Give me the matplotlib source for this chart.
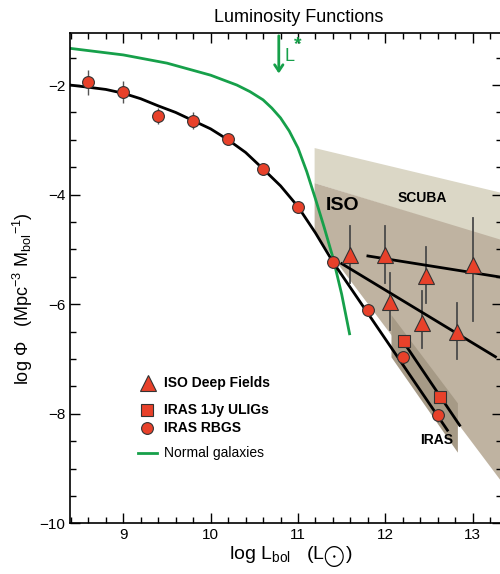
import matplotlib
matplotlib.use("Agg")
import matplotlib.pyplot as plt
from matplotlib.ticker import MultipleLocator

plt.rcParams['font.family'] = ['Liberation Sans', 'DejaVu Sans']
plt.rcParams['mathtext.fontset'] = 'custom'
plt.rcParams['mathtext.rm'] = 'Liberation Sans'
plt.rcParams['mathtext.it'] = 'Liberation Sans:italic'
plt.rcParams['mathtext.bf'] = 'Liberation Sans:bold'

# --- data ---
# IRAS RBGS (circles)
rbgs_x = [8.6, 9.0, 9.4, 9.8, 10.2, 10.6, 11.0, 11.4, 11.8, 12.2, 12.6]
rbgs_y = [-1.95, -2.12, -2.56, -2.65, -2.99, -3.53, -4.23, -5.23, -6.10, -6.97, -8.03]
rbgs_err = [0.23, 0.2, 0.15, 0.15, 0.07, 0.1, 0.1, 0.05, 0.05, 0.12, 0.12]

# IRAS 1Jy ULIGs (squares)
ulig_x = [12.21, 12.62]
ulig_y = [-6.68, -7.70]
ulig_err = [0.1, 0.1]

# ISO deep fields (triangles) with asymmetric error bars
iso_x = [11.59, 12.0, 12.46, 13.0, 12.05, 12.42, 12.82]
iso_y = [-5.10, -5.10, -5.49, -5.29, -5.96, -6.34, -6.50]
iso_top = [-4.57, -4.57, -4.95, -4.43, -5.43, -5.76, -5.97]
iso_bot = [-5.62, -5.62, -5.98, -6.30, -6.48, -6.80, -7.00]

# RBGS fit curve
fit_x = [8.39, 8.6, 8.8, 9.0, 9.2, 9.4, 9.6, 9.8, 10.0, 10.2, 10.4, 10.6, 10.8, 11.0, 11.2, 11.4, 12.71]
fit_y = [-2.0, -2.04, -2.08, -2.15, -2.25, -2.38, -2.5, -2.65, -2.8, -3.0, -3.23, -3.53, -3.84, -4.22, -4.7, -5.23, -8.3]

# second IRAS (ULIG) line
ulig_line_x = [12.22, 12.85]
ulig_line_y = [-6.72, -8.21]

# ISO power-law lines
iso_line1_x = [11.8, 13.335]
iso_line1_y = [-5.12, -5.51]
iso_line2_x = [11.5, 13.26]
iso_line2_y = [-5.26, -6.96]

# normal galaxies
norm_x = [8.39, 9.0, 9.5, 10.0, 10.3, 10.45, 10.6, 10.7, 10.8, 10.9, 11.0, 11.1, 11.2, 11.3, 11.4, 11.5, 11.59]
norm_y = [-1.33, -1.45, -1.6, -1.82, -2.0, -2.12, -2.27, -2.42, -2.6, -2.84, -3.15, -3.58, -4.08, -4.6, -5.15, -5.82, -6.54]

# shaded regions
scuba_x = [11.19, 13.335, 13.335, 11.19]
scuba_y = [-3.15, -3.97, -4.85, -3.79]
iso_reg_x = [11.19, 13.335, 13.335, 11.19]
iso_reg_y = [-3.79, -4.83, -9.25, -4.70]
iras_reg_x = [12.07, 12.83, 12.83, 12.07]
iras_reg_y = [-6.2, -7.81, -8.71, -6.97]

Lstar = 10.78

red = '#e8412a'
green = '#16a04a'

fig = plt.figure(figsize=(5.0, 5.74), dpi=100)
ax = fig.add_axes([0.14, 0.0883, 0.864, 0.8542])

ax.fill(scuba_x, scuba_y, color='#dbd7c6', lw=0, zorder=1)
ax.fill(iso_reg_x, iso_reg_y, color='#bfb3a1', lw=0, zorder=1.1)
ax.fill(iras_reg_x, iras_reg_y, color='#a69a86', lw=0, zorder=1.2)

ax.plot(norm_x, norm_y, color=green, lw=2, zorder=2)

ax.plot(fit_x, fit_y, color='k', lw=2, zorder=3)
ax.plot(ulig_line_x, ulig_line_y, color='k', lw=2, zorder=3)
ax.plot(iso_line1_x, iso_line1_y, color='k', lw=2, zorder=3)
ax.plot(iso_line2_x, iso_line2_y, color='k', lw=2, zorder=3)

# error bars
for x, t, b in zip(iso_x, iso_top, iso_bot):
    ax.plot([x, x], [b, t], color='#4a4a4a', lw=1.3, zorder=2.5)
ax.errorbar(rbgs_x, rbgs_y, yerr=rbgs_err, fmt='none', ecolor='#555555', elinewidth=1.0, zorder=2.5)
ax.errorbar(ulig_x, ulig_y, yerr=ulig_err, fmt='none', ecolor='#555555', elinewidth=1.0, zorder=2.5)

ax.plot(iso_x, iso_y, '^', ms=11, mfc=red, mec='#333333', mew=0.8, ls='none', zorder=4)
ax.plot(ulig_x, ulig_y, 's', ms=8, mfc=red, mec='#333333', mew=0.8, ls='none', zorder=4)
ax.plot(rbgs_x, rbgs_y, 'o', ms=8.5, mfc=red, mec='#333333', mew=0.8, ls='none', zorder=4)

# L* arrow
ax.annotate('', xy=(Lstar, -1.84), xytext=(Lstar, -1.05),
            arrowprops=dict(arrowstyle='->,head_length=0.45,head_width=0.3', color=green, lw=2),
            zorder=5)
ax.text(Lstar + 0.06, -1.48, 'L', color=green, fontsize=13, va='center', ha='left')
ax.text(Lstar + 0.17, -1.27, '*', color=green, fontsize=14, fontweight='bold', va='center', ha='left')

ax.text(11.51, -4.19, 'ISO', fontsize=14, fontweight='bold', ha='center', va='center', zorder=5)
ax.text(12.42, -4.07, 'SCUBA', fontsize=10, fontweight='bold', ha='center', va='center', zorder=5)
ax.text(12.59, -8.48, 'IRAS', fontsize=10, fontweight='bold', ha='center', va='center', zorder=5)

# legend drawn by hand
tr = ax.transAxes
ax.plot([0.181], [0.286], '^', ms=11, mfc=red, mec='#333333', mew=0.8, transform=tr, zorder=5)
ax.plot([0.179], [0.232], 's', ms=8, mfc=red, mec='#333333', mew=0.8, transform=tr, zorder=5)
ax.plot([0.179], [0.195], 'o', ms=8.5, mfc=red, mec='#333333', mew=0.8, transform=tr, zorder=5)
ax.plot([0.157, 0.201], [0.144, 0.144], color=green, lw=2, transform=tr, zorder=5)
ax.text(0.218, 0.286, 'ISO Deep Fields', transform=tr, fontsize=10, fontweight='bold', va='center')
ax.text(0.218, 0.232, 'IRAS 1Jy ULIGs', transform=tr, fontsize=10, fontweight='bold', va='center')
ax.text(0.218, 0.195, 'IRAS RBGS', transform=tr, fontsize=10, fontweight='bold', va='center')
ax.text(0.218, 0.144, 'Normal galaxies', transform=tr, fontsize=10, va='center')

ax.set_xlim(8.39, 13.335)
ax.set_ylim(-10, -1.05)
ax.xaxis.set_major_locator(MultipleLocator(1))
ax.xaxis.set_minor_locator(MultipleLocator(0.2))
ax.yaxis.set_major_locator(MultipleLocator(2))
ax.yaxis.set_minor_locator(MultipleLocator(0.5))
ax.tick_params(which='both', direction='in', top=True, right=True, labelsize=11, width=1)
ax.tick_params(which='major', length=7)
ax.tick_params(which='minor', length=4)
for s in ax.spines.values():
    s.set_linewidth(1.2)

fig.text(0.598, 0.969, 'Luminosity Functions', fontsize=13, ha='center', va='center')
fig.text(0.582, 0.028, r'log L$_{\mathrm{bol}}$   (L$_{\bigodot}$)', fontsize=14, ha='center', va='center')
fig.text(0.045, 0.48, r'log $\Phi$   (Mpc$^{-3}$ M$_{\mathrm{bol}}$$^{-1}$)', fontsize=13,
         ha='center', va='center', rotation=90)

fig.savefig('out.png', dpi=100)
